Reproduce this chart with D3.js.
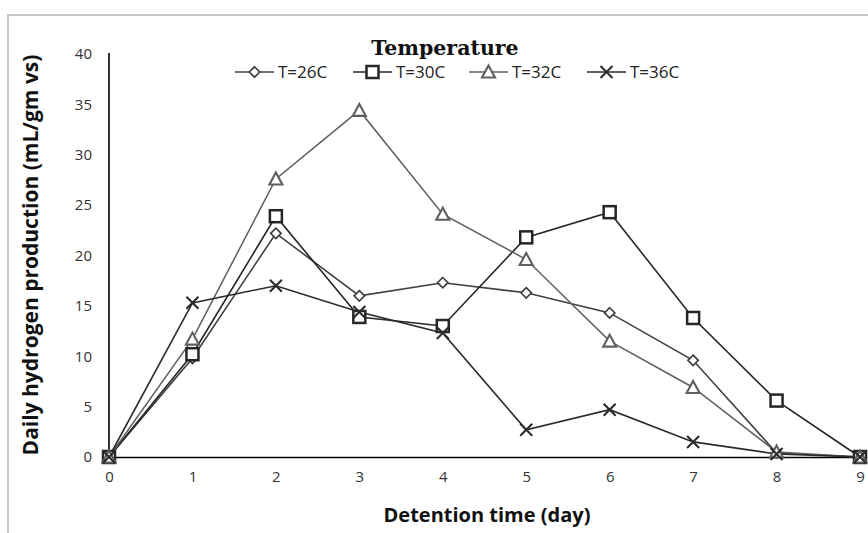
<!DOCTYPE html>
<html><head><meta charset="utf-8">
<script src="https://cdn.jsdelivr.net/npm/d3@7"></script>
<style>body{margin:0;background:#fff;} svg{display:block;}</style>
</head><body>
<svg id="c" width="868" height="533"></svg>
<script>
const days = [0,1,2,3,4,5,6,7,8,9];
const t26 = [0, 9.8, 22.2, 16.0, 17.3, 16.3, 14.3, 9.6, 0.4, 0];
const t30 = [0, 10.2, 23.9, 13.9, 13.0, 21.8, 24.3, 13.8, 5.6, 0];
const t32 = [0, 11.7, 27.6, 34.4, 24.1, 19.6, 11.5, 6.9, 0.5, 0];
const t36 = [0, 15.3, 17.0, 14.4, 12.3, 2.7, 4.7, 1.5, 0.3, 0];
const seriesNames = ["T=26C","T=30C","T=32C","T=36C"];
const yTicks = [0,5,10,15,20,25,30,35,40];
const xTicks = [0,1,2,3,4,5,6,7,8,9];

const series = [
  {name: seriesNames[0], values: t26, marker: "diamond", color: "#404040", lw: 1.6, mw: 1.7},
  {name: seriesNames[1], values: t30, marker: "square",  color: "#262626", lw: 1.6, mw: 2.5},
  {name: seriesNames[2], values: t32, marker: "triangle",color: "#5f5f5f", lw: 1.5, mw: 2.1},
  {name: seriesNames[3], values: t36, marker: "x",       color: "#2b2b2b", lw: 1.6, mw: 2.1}
];

const svg = d3.select("#c");
const font = "'Open Sans', 'Noto Sans', sans-serif";

// outer border (light gray)
svg.append("path").attr("d","M8,533 V15 H868").attr("fill","none").attr("stroke","#c8c8c8").attr("stroke-width",2);

const x = d3.scaleLinear().domain([0,9]).range([109,860]);
const y = d3.scaleLinear().domain([0,40]).range([457,54]);

// axes
const yAxis = svg.append("g").attr("transform","translate(109,0)")
  .call(d3.axisLeft(y).tickValues(yTicks).tickSize(0).tickPadding(17));
const xAxis = svg.append("g").attr("transform","translate(0,457)")
  .call(d3.axisBottom(x).tickValues(xTicks).tickSize(0).tickPadding(14));
[yAxis, xAxis].forEach(g => {
  g.select(".domain").attr("stroke","#000").attr("stroke-width",1.6);
  g.selectAll("text").attr("font-family",font).attr("font-size",15).attr("fill","#333");
});
yAxis.select(".domain").attr("d","M0,457V53");

// axis titles
svg.append("text").attr("x",487).attr("y",522).attr("text-anchor","middle")
  .attr("font-family",font).attr("font-weight","bold").attr("font-size",20).attr("fill","#111")
  .text("Detention time (day)");
svg.append("text").attr("transform","translate(38,255) rotate(-90)").attr("text-anchor","middle")
  .attr("font-family",font).attr("font-weight","bold").attr("font-size",21).attr("fill","#111")
  .text("Daily hydrogen production (mL/gm vs)");

function drawMarker(g, type, cx, cy, color, w) {
  if (type === "diamond") {
    g.append("path").attr("d", `M${cx},${cy-5.2}L${cx+5.2},${cy}L${cx},${cy+5.2}L${cx-5.2},${cy}Z`)
      .attr("fill","#fff").attr("stroke",color).attr("stroke-width",w);
  } else if (type === "square") {
    g.append("rect").attr("x",cx-6).attr("y",cy-6).attr("width",12).attr("height",12)
      .attr("fill","#fff").attr("stroke",color).attr("stroke-width",w);
  } else if (type === "triangle") {
    g.append("path").attr("d", `M${cx},${cy-6.5}L${cx+6.5},${cy+5.5}L${cx-6.5},${cy+5.5}Z`)
      .attr("fill","#fff").attr("stroke",color).attr("stroke-width",w);
  } else {
    g.append("path").attr("d", `M${cx-6},${cy-6}L${cx+6},${cy+6}M${cx+6},${cy-6}L${cx-6},${cy+6}`)
      .attr("fill","none").attr("stroke",color).attr("stroke-width",w);
  }
}

const line = d3.line().x((d,i) => x(days[i])).y(d => y(d));
series.forEach(s => {
  svg.append("path").attr("d", line(s.values)).attr("fill","none")
    .attr("stroke", s.color).attr("stroke-width", s.lw);
});
series.forEach(s => {
  const g = svg.append("g");
  s.values.forEach((v,i) => drawMarker(g, s.marker, x(days[i]), y(v), s.color, s.mw));
});

// legend
svg.append("text").attr("x",445).attr("y",55).attr("text-anchor","middle")
  .attr("font-family","'DejaVu Serif', 'Liberation Serif', serif").attr("font-weight","bold")
  .attr("font-size",20.5).attr("fill","#111").text("Temperature");
const legX = [235, 353, 469, 587];
series.forEach((s,i) => {
  const lx = legX[i], ly = 72;
  const g = svg.append("g");
  g.append("line").attr("x1",lx).attr("x2",lx+39).attr("y1",ly).attr("y2",ly)
    .attr("stroke", s.color).attr("stroke-width", s.lw);
  drawMarker(g, s.marker, lx+19.5, ly, s.color, s.mw);
  g.append("text").attr("x", lx+43).attr("y", ly+6).attr("font-family",font)
    .attr("font-size",17).attr("fill","#222").text(s.name);
});
</script>
</body></html>
